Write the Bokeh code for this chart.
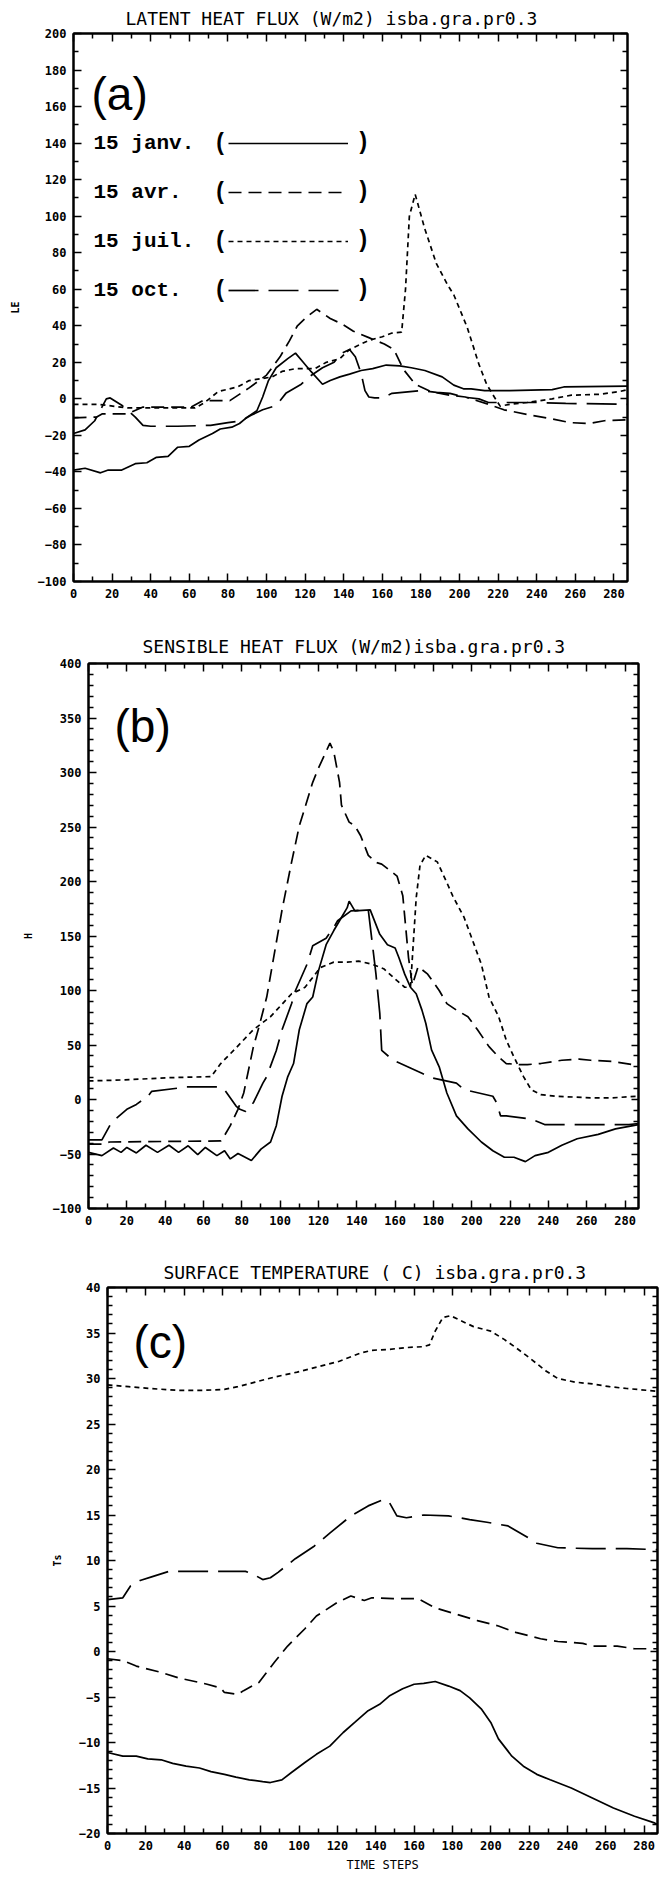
from bokeh.plotting import figure
from bokeh.models import Range1d, LinearAxis, FixedTicker, Label, Legend, LegendItem
from bokeh.embed import file_html
from bokeh.resources import INLINE

# ---------------- data ----------------
SERIES = ["15 janv.", "15 avr.", "15 juil.", "15 oct."]

X_TICKS = [0, 20, 40, 60, 80, 100, 120, 140, 160, 180, 200, 220, 240, 260, 280]
X_MINOR = [10, 30, 50, 70, 90, 110, 130, 150, 170, 190, 210, 230, 250, 270]

LE_TICKS = [-100, -80, -60, -40, -20, 0, 20, 40, 60, 80, 100, 120, 140, 160, 180, 200]
H_TICKS = [-100, -50, 0, 50, 100, 150, 200, 250, 300, 350, 400]
TS_TICKS = [-20, -15, -10, -5, 0, 5, 10, 15, 20, 25, 30, 35, 40]

# (a) latent heat flux LE (W/m2)
LE_JANV_X = [0, 6, 14, 18, 25, 32, 38, 43, 49, 54, 60, 65, 72, 76, 82, 86, 90, 95, 98, 101, 105, 111,
             115, 119, 123, 129, 133, 138, 143, 149, 155, 162, 169, 175, 182, 191, 197, 202, 206, 213,
             226, 248, 254, 287]
LE_JANV_Y = [-39, -38, -40.5, -39, -39, -35.5, -35, -32, -31.5, -26.5, -26, -22.5, -19, -16.5, -15.5,
             -13.5, -10, -6.5, 1, 10, 17, 22, 25, 20, 15, 8, 10, 12, 13.5, 15.5, 16.5, 18.5, 18, 17,
             15.5, 12, 7.5, 5.5, 5.5, 4.5, 4.5, 5, 6.5, 7]
LE_AVR_X = [0, 12, 15, 28, 36, 61, 67, 81, 91, 100, 107, 112, 116, 121, 126, 133, 139, 145, 153, 161,
            166, 171, 177, 185, 195, 203, 215, 223, 237, 248, 257, 267, 275, 287]
LE_AVR_Y = [-10.4, -10, -8.2, -8.2, -4.5, -4.5, -1, -1, 6, 13, 23, 32, 40, 45, 49, 44, 41, 37, 33.5,
            30, 27, 16, 8, 4, 2, 1, -3, -6, -9, -11, -13, -13.5, -12, -11.5]
LE_JUIL_X = [0, 13, 28, 63, 68, 75, 85, 91, 103, 108, 115, 125, 131, 138, 143, 153, 160, 165, 170, 172,
             174, 177, 182, 188, 194, 197, 204, 210, 214, 218, 221, 226, 235, 248, 258, 273, 283, 287]
LE_JUIL_Y = [-3, -3, -5, -5, -2, 4, 6.5, 10, 12, 15, 16.5, 16.5, 20, 22, 27, 32, 34, 36, 36.5, 60,
             100, 112, 93, 74, 62, 57, 39, 19, 8, 1, -4, -3, -2, 0, 2, 2.5, 4, 5]
LE_OCT_X = [0, 6, 11, 17, 19, 25, 32, 36, 40, 54, 71, 80, 87, 92, 98, 104, 107, 110, 118, 122, 129,
            135, 139, 143, 146, 149, 151, 153, 156, 160, 165, 180, 188, 195, 202, 210, 215, 240, 255, 287]
LE_OCT_Y = [-19, -17, -12, 0, 0.5, -3.5, -10, -14.5, -15, -15, -14.5, -13, -12, -9, -6, -4, -1, 3, 8,
            12, 17, 20, 25, 27, 23, 14, 4.5, 1, 0.5, 0.5, 3, 4.5, 3.5, 3, 1, 0, -2, -2, -2.5, -3]

# (b) sensible heat flux H (W/m2)
H_JANV_X = [0, 7, 13, 17, 20, 25, 30, 36, 42, 47, 52, 57, 61, 67, 71, 74, 78, 85, 90, 95, 98, 101,
            104, 107, 110, 114, 117, 120, 124, 128, 131, 135, 136, 139, 147, 152, 156, 160, 162, 165,
            168, 171, 174, 176, 179, 183, 187, 192, 198, 205, 211, 217, 222, 228, 233, 240, 247, 255,
            266, 275, 287]
H_JANV_Y = [-48.5, -51.5, -44.5, -48.5, -44, -49, -42, -48.5, -42, -48.5, -42.5, -50.5, -44, -51.5,
            -47, -54.5, -49.5, -56, -45.5, -39, -24, 3, 21, 33, 64, 88, 94, 118, 142, 155, 164, 176,
            182, 173, 174, 151.5, 142, 139, 130, 115, 103, 97, 82, 70, 45.5, 30, 6, -15, -27, -39,
            -47, -53, -53, -57, -51.5, -48.5, -42, -36, -32, -27, -23]
H_AVR_X = [0, 7, 11, 41, 69, 71, 74, 78, 81, 86, 89, 93, 96, 101, 106, 110, 117, 120, 126, 128, 131,
           132, 136, 139, 142, 146, 150, 153, 161, 164, 165, 167, 169, 172, 177, 183, 187, 192, 198,
           203, 209, 214, 218, 225, 229, 236, 247, 256, 262, 273, 284, 287]
H_AVR_Y = [-41, -41, -39, -38.5, -38, -33, -24, -9, 6, 48, 67, 94, 124, 174, 218, 251, 291, 304, 327,
           319, 291, 270, 254.5, 251, 242, 224, 217.5, 216, 205, 187, 168, 130, 105, 122, 115, 100,
           88, 82, 76, 64, 48.5, 39, 33, 32, 32, 33, 36, 37, 36, 35, 32, 30]
H_JUIL_X = [0, 19, 42, 64, 69, 76, 86, 95, 106, 113, 121, 128, 135, 141, 148, 154, 161, 165, 168, 169,
            171, 173, 176, 182, 187, 190, 196, 200, 205, 209, 214, 218, 222, 227, 231, 236, 244, 262,
            273, 287]
H_JUIL_Y = [17, 18, 20, 21, 33, 45.5, 64, 76, 97, 103, 121, 126, 126, 127, 124, 120, 109, 103, 103,
            130, 185, 215, 224, 218, 199, 187, 167, 148, 124, 94, 76, 54.5, 39, 21, 9, 4.5, 3, 1.5,
            1.5, 3]
H_OCT_X = [0, 7, 12, 20, 25, 31, 33, 47, 51, 69, 71, 77, 79, 82, 86, 91, 93, 98, 101, 106, 108, 114,
           117, 124, 128, 130, 137, 146, 150, 152, 153, 159, 174, 179, 192, 196, 211, 213, 215, 218,
           231, 238, 256, 282, 287]
H_OCT_Y = [-37, -37, -21, -9, -4.5, 3, 7.5, 10.5, 11.5, 11.5, 9, -6, -9, -11, -3, 15, 21, 45, 64, 88,
           100, 124, 141, 148, 158, 164, 173, 174, 115, 79, 45, 36, 24, 20, 15, 9, 3, -3, -15, -15,
           -18, -23, -23, -23, -22]

# (c) surface temperature Ts (C)
TS_JANV_X = [0, 8, 15, 21, 28, 34, 41, 48, 54, 61, 67, 74, 81, 85, 91, 96, 103, 109, 116, 123, 129,
             136, 142, 147, 154, 160, 165, 171, 178, 184, 189, 195, 200, 204, 211, 217, 224, 231, 242,
             253, 264, 275, 285, 287]
TS_JANV_Y = [-11.1, -11.5, -11.5, -11.8, -11.9, -12.3, -12.6, -12.8, -13.2, -13.5, -13.8, -14.1,
             -14.3, -14.4, -14.1, -13.3, -12.2, -11.3, -10.4, -8.9, -7.8, -6.5, -5.8, -4.9, -4.1,
             -3.6, -3.5, -3.3, -3.8, -4.3, -5.1, -6.3, -7.8, -9.6, -11.5, -12.6, -13.5, -14.1, -15,
             -16.1, -17.2, -18.1, -18.8, -19]
TS_AVR_X = [0, 8, 15, 28, 37, 48, 52, 59, 61, 68, 71, 79, 87, 94, 103, 109, 120, 127, 134, 138, 149,
            162, 171, 182, 193, 204, 213, 226, 235, 248, 253, 266, 275, 287]
TS_AVR_Y = [-0.8, -1, -1.6, -2.3, -2.9, -3.4, -3.6, -4, -4.5, -4.7, -4.3, -3.4, -1.2, 0.6, 2.5, 3.9,
            5.4, 6.1, 5.6, 5.9, 5.8, 5.8, 4.8, 4.1, 3.4, 2.8, 2.1, 1.4, 1.1, 0.9, 0.6, 0.6, 0.3, 0.3]
TS_JUIL_X = [0, 11, 22, 37, 50, 61, 68, 77, 88, 99, 110, 121, 132, 138, 147, 156, 165, 168, 171, 175,
             179, 185, 191, 200, 207, 213, 220, 229, 235, 244, 253, 262, 271, 287]
TS_JUIL_Y = [29.3, 29.1, 28.9, 28.7, 28.7, 28.8, 29.1, 29.6, 30.2, 30.7, 31.3, 31.9, 32.8, 33.1, 33.2,
             33.4, 33.5, 33.7, 35.2, 36.7, 36.9, 36.3, 35.7, 35.2, 34.3, 33.4, 32.3, 30.8, 30, 29.6,
             29.4, 29.1, 28.9, 28.6]
TS_OCT_X = [0, 8, 12, 17, 23, 32, 72, 76, 81, 85, 89, 98, 108, 116, 127, 136, 144, 147, 151, 156,
            165, 178, 189, 198, 209, 218, 224, 235, 253, 271, 287]
TS_OCT_Y = [5.7, 5.9, 7.2, 7.8, 8.2, 8.8, 8.8, 8.5, 7.9, 8.1, 8.7, 10.2, 11.6, 13, 14.9, 16, 16.7,
            16.4, 14.9, 14.7, 15, 14.9, 14.5, 14.2, 13.8, 12.7, 11.9, 11.4, 11.3, 11.3, 11.2]

TITLES = ["LATENT HEAT FLUX (W/m2)  isba.gra.pr0.3",
          "SENSIBLE HEAT FLUX (W/m2)isba.gra.pr0.3",
          "SURFACE TEMPERATURE ( C) isba.gra.pr0.3"]
Y_LABELS = ["LE", "H", "Ts"]
X_LABEL = "TIME STEPS"

# ---------------- styling ----------------
DASH = {"15 janv.": "solid", "15 avr.": "13 7", "15 juil.": "5 4", "15 oct.": "30 10"}
MONO = "DejaVu Sans Mono"


def minor_of(lo, hi, step, majors):
    return [v for v in range(lo, hi + 1, step) if v not in majors]


def style_axis(ax, labels, major_in=8, minor_in=5):
    ax.axis_line_color = "black"
    ax.axis_line_width = 2
    ax.major_tick_line_color = "black"
    ax.minor_tick_line_color = "black"
    ax.major_tick_line_width = 1.5
    ax.minor_tick_line_width = 1.5
    ax.major_tick_in = major_in
    ax.major_tick_out = 0
    ax.minor_tick_in = minor_in
    ax.minor_tick_out = 0
    ax.major_label_text_font = MONO
    ax.major_label_text_font_style = "bold"
    ax.major_label_text_font_size = "12px"
    if labels:
        ax.major_label_text_color = "black"
        ax.major_label_standoff = 7
    else:
        ax.major_label_text_color = None
        ax.major_label_standoff = 0


def make_panel(title, title_offset, title_standoff, y_lo, y_hi, yl_major, yl_minor, yr_major,
               yr_minor, ylabel, ylabel_standoff, data, height, borders, tag, tag_pos):
    b_left, b_right, b_top, b_bottom = borders
    p = figure(width=661, height=height, x_range=Range1d(0, 287), y_range=Range1d(y_lo, y_hi),
               output_backend="svg", toolbar_location=None, tools="",
               x_axis_location=None, y_axis_location=None,
               min_border_left=b_left, min_border_right=b_right,
               min_border_top=b_top, min_border_bottom=b_bottom)
    p.grid.visible = False
    p.outline_line_color = "black"
    p.outline_line_width = 2
    p.background_fill_color = "white"
    p.border_fill_color = "white"

    p.title.text = title
    p.title.text_font = MONO
    p.title.text_font_size = "18px"
    p.title.text_font_style = "normal"
    p.title.text_color = "black"
    p.title.align = "left"
    p.title.offset = title_offset
    p.title.standoff = title_standoff

    rends = []
    for name, (xs, ys) in zip(SERIES, data):
        r = p.line(xs, ys, line_color="black", line_width=1.7, line_dash=DASH[name])
        rends.append(r)

    bottom = LinearAxis(ticker=FixedTicker(ticks=X_TICKS, minor_ticks=X_MINOR))
    style_axis(bottom, True)
    p.add_layout(bottom, "below")
    top = LinearAxis(ticker=FixedTicker(ticks=X_TICKS, minor_ticks=X_MINOR))
    style_axis(top, False)
    p.add_layout(top, "above")
    left = LinearAxis(ticker=FixedTicker(ticks=yl_major, minor_ticks=yl_minor),
                      axis_label=ylabel)
    style_axis(left, True)
    left.axis_label_text_font = MONO
    left.axis_label_text_font_size = "10px"
    left.axis_label_text_font_style = "bold"
    left.axis_label_text_color = "black"
    left.axis_label_standoff = ylabel_standoff
    p.add_layout(left, "left")
    right = LinearAxis(ticker=FixedTicker(ticks=yr_major, minor_ticks=yr_minor))
    style_axis(right, False, 7, 5)
    p.add_layout(right, "right")

    p.add_layout(Label(x=tag_pos[0], y=tag_pos[1], x_units="screen", y_units="screen",
                       text=tag, text_font="Liberation Sans", text_font_size="46px",
                       text_baseline="middle", text_align="left", text_color="black"))
    return p, rends, bottom


# panel (a)
pa, ra, _ = make_panel(TITLES[0], 52, 9, -100, 200,
                       LE_TICKS, minor_of(-100, 200, 10, LE_TICKS),
                       list(range(-100, 201, 20)), minor_of(-100, 200, 10, list(range(-100, 201, 20))),
                       Y_LABELS[0], 14,
                       [(LE_JANV_X, LE_JANV_Y), (LE_AVR_X, LE_AVR_Y), (LE_JUIL_X, LE_JUIL_Y),
                        (LE_OCT_X, LE_OCT_Y)],
                       620, (73, 34, 33, 39), "(a)", (18, 488))

# legend of panel (a): "15 janv. (" text, line sample, ")"
LEG_FONT = "Liberation Mono"
row_y = [438, 389, 340, 291]
for name, yy in zip(SERIES, row_y):
    pa.add_layout(Label(x=20, y=yy, x_units="screen", y_units="screen", text=name,
                        text_font=LEG_FONT, text_font_size="21px", text_font_style="bold",
                        text_baseline="middle", text_align="left", text_color="black"))
    pa.add_layout(Label(x=140, y=yy, x_units="screen", y_units="screen", text="(",
                        text_font=LEG_FONT, text_font_size="23px", text_font_style="bold",
                        text_baseline="middle", text_align="left", text_color="black"))
legend = Legend(items=[LegendItem(label=")", renderers=[r]) for r in ra],
                location=(155, 276), orientation="vertical", padding=0, margin=0, spacing=19,
                glyph_width=120, glyph_height=30, label_height=30, label_width=10, label_standoff=8,
                label_text_font=LEG_FONT, label_text_font_size="23px", label_text_font_style="bold",
                label_text_color="black",
                border_line_color=None, background_fill_alpha=0)
pa.add_layout(legend)

# panel (b)
pb, rb, _ = make_panel(TITLES[1], 54, 13, -100, 400,
                       H_TICKS, minor_of(-100, 400, 10, H_TICKS),
                       list(range(-100, 401, 50)), minor_of(-100, 400, 10, list(range(-100, 401, 50))),
                       Y_LABELS[1], 16,
                       [(H_JANV_X, H_JANV_Y), (H_AVR_X, H_AVR_Y), (H_JUIL_X, H_JUIL_Y),
                        (H_OCT_X, H_OCT_Y)],
                       628, (88, 23, 43, 40), "(b)", (26, 483))

# panel (c)
pc, rc, bottom_c = make_panel(TITLES[2], 56, 9, -20, 40,
                              TS_TICKS, minor_of(-20, 40, 1, TS_TICKS),
                              TS_TICKS, minor_of(-20, 40, 1, TS_TICKS),
                              Y_LABELS[2], 13,
                              [(TS_JANV_X, TS_JANV_Y), (TS_AVR_X, TS_AVR_Y), (TS_JUIL_X, TS_JUIL_Y),
                               (TS_OCT_X, TS_OCT_Y)],
                              630, (107, 4, 39, 45), "(c)", (26, 492))
bottom_c.axis_label = X_LABEL
bottom_c.axis_label_text_font = MONO
bottom_c.axis_label_text_font_size = "12px"
bottom_c.axis_label_text_font_style = "normal"
bottom_c.axis_label_text_color = "black"
bottom_c.axis_label_standoff = 5

open("out.html", "w").write(file_html([pa, pb, pc], INLINE))
